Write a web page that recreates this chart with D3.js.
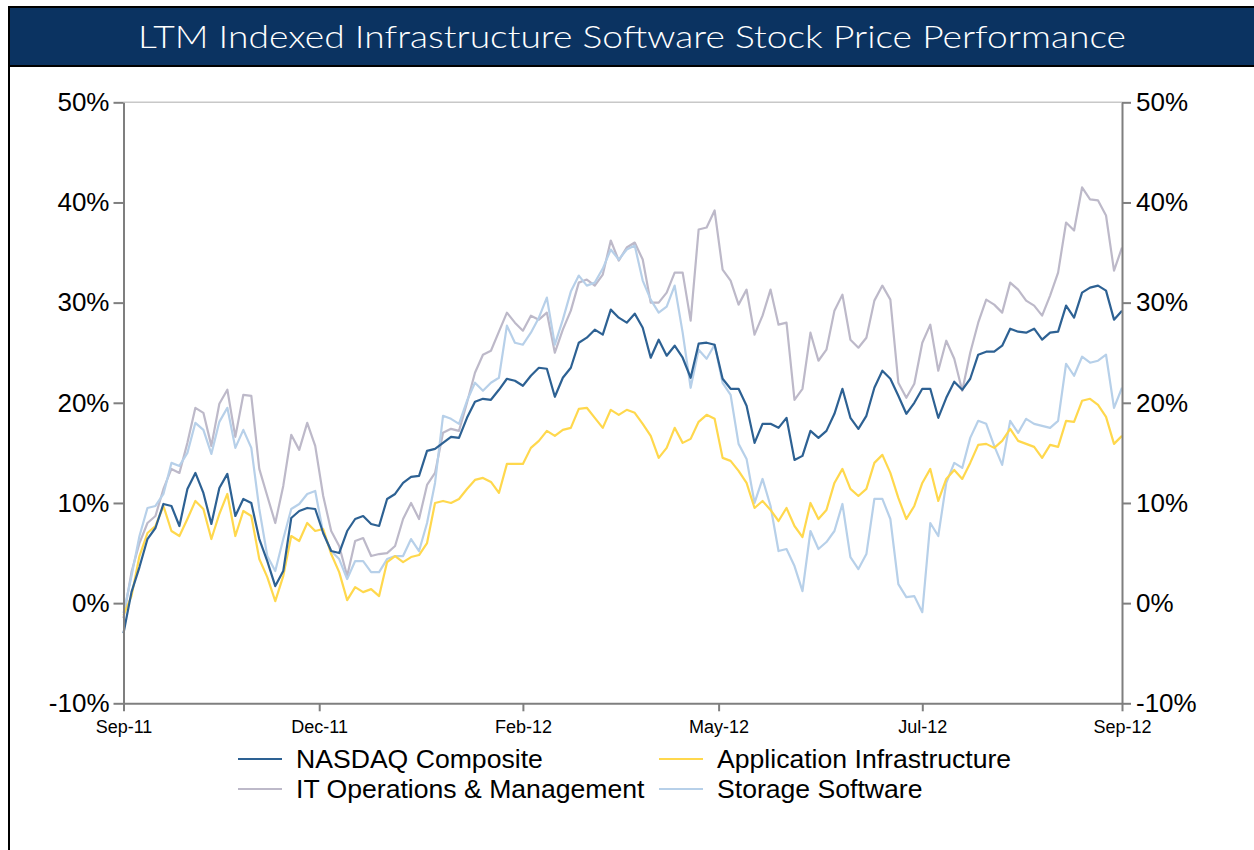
<!DOCTYPE html>
<html>
<head>
<meta charset="utf-8">
<script src="https://cdn.jsdelivr.net/npm/d3@7"></script>
<style>
  html, body { margin: 0; padding: 0; background: #fff; }
  svg { display: block; }
</style>
</head>
<body>
<script>
// ---------- DATA ----------
const tickIndex  = [0, 24.5, 50, 74.5, 100, 125];
const tickLabels = ["Sep-11", "Dec-11", "Feb-12", "May-12", "Jul-12", "Sep-12"];
const yTicks     = [-10, 0, 10, 20, 30, 40, 50];

const seriesNames = ["NASDAQ Composite", "Application Infrastructure", "IT Operations & Management", "Storage Software"];

const nasdaq = [
  -3.0, 1.1, 3.6, 6.4, 7.5, 9.9, 9.7, 7.7, 11.4, 13.0, 11.0, 7.9, 11.5, 12.9, 8.7, 10.4, 10.0, 6.4, 4.2, 1.7,
  3.2, 8.5, 9.2, 9.5, 9.4, 7.0, 5.2, 5.0, 7.2, 8.4, 8.7, 7.9, 7.7, 10.4, 10.9,
  12.0, 12.6, 12.7, 15.2, 15.4, 16.0, 16.6, 16.5, 18.5, 20.1, 20.4, 20.3, 21.3, 22.4, 22.2,
  21.7, 22.7, 23.5, 23.4, 20.6, 22.5, 23.5, 26.0, 26.5, 27.3, 26.8, 29.3, 28.5, 28.0, 28.9,
  27.5, 24.5, 26.3, 24.7, 25.7, 24.5, 22.5, 25.9, 26.0, 25.8, 22.4, 21.4, 21.4,
  19.7, 16.0, 17.9, 17.9, 17.5, 18.5, 14.3, 14.7, 17.2, 16.5, 17.2, 18.9, 21.4, 18.5, 17.4,
  18.7, 21.5, 23.2, 22.4, 20.7, 18.9, 20.0, 21.4, 21.4, 18.5, 20.5, 22.1, 21.3, 22.4, 24.8, 25.1, 25.1,
  25.7, 27.4, 27.1, 27.0, 27.4, 26.3, 27.0, 27.1, 29.7, 28.5, 31.0, 31.5, 31.7, 31.2, 28.3, 29.2
];
const appInfra = [
  -1.2, 0.7, 4.7, 7.0, 7.7, 9.7, 7.2, 6.7, 8.4, 10.2, 9.4, 6.4, 8.9, 10.9, 6.7, 9.2, 8.7, 4.4, 2.6, 0.2,
  2.7, 6.7, 6.2, 8.0, 7.2, 7.4, 4.9, 3.1, 0.3, 1.6, 1.1, 1.4, 0.7, 4.1, 4.7,
  4.1, 4.6, 4.8, 6.0, 10.0, 10.2, 10.0, 10.4, 11.4, 12.3, 12.5, 12.1, 11.0, 13.9, 13.9,
  13.9, 15.5, 16.2, 17.2, 16.7, 17.3, 17.5, 19.4, 19.5, 18.5, 17.5, 19.3, 18.8, 19.3, 19.0,
  17.9, 16.7, 14.5, 15.5, 17.5, 16.0, 16.4, 18.1, 18.8, 18.4, 14.5, 14.2, 13.2,
  12.0, 9.5, 10.2, 9.3, 8.2, 9.5, 7.7, 6.6, 10.0, 8.4, 9.3, 12.0, 13.4, 11.4, 10.7,
  11.4, 14.0, 14.8, 13.0, 10.5, 8.4, 9.7, 12.0, 13.4, 10.2, 12.4, 13.3, 12.4, 14.0, 15.8, 15.9, 15.5,
  16.2, 17.4, 16.2, 15.9, 15.6, 14.5, 15.8, 15.6, 18.2, 18.1, 20.2, 20.4, 19.8, 18.6, 15.9, 16.7
];
const itOps = [
  -1.5, 3.1, 6.0, 8.0, 8.7, 11.4, 13.4, 13.0, 16.0, 19.5, 19.0, 15.7, 19.9, 21.3, 16.6, 20.8, 20.7, 13.4, 10.7, 8.0,
  11.7, 16.8, 15.3, 18.0, 15.7, 10.7, 7.2, 5.7, 2.7, 6.2, 6.5, 4.7, 4.9, 5.0, 5.7,
  8.4, 10.0, 8.4, 11.8, 13.0, 17.0, 17.4, 17.2, 20.0, 23.0, 24.8, 25.2, 27.1, 29.0, 28.0,
  27.2, 28.7, 28.3, 29.0, 25.0, 27.3, 29.2, 32.0, 32.3, 31.7, 32.8, 36.2, 34.2, 35.5, 36.0,
  34.3, 30.0, 30.0, 31.0, 33.0, 33.0, 28.2, 37.3, 37.5, 39.2, 33.3, 32.2, 29.8,
  31.3, 26.8, 28.7, 31.3, 27.8, 28.0, 20.3, 21.4, 27.0, 24.2, 25.3, 29.2, 30.8, 26.3, 25.5,
  26.5, 30.2, 31.7, 30.3, 22.0, 20.5, 21.9, 26.0, 27.8, 23.2, 26.2, 24.4, 21.2, 25.0, 28.0, 30.3, 29.8,
  29.0, 32.0, 31.3, 30.2, 29.7, 28.7, 30.7, 33.0, 38.0, 37.2, 41.5, 40.3, 40.2, 38.7, 33.2, 35.5
];
const storage = [
  -1.0, 2.7, 6.7, 9.5, 9.7, 10.9, 14.0, 13.7, 15.0, 18.0, 17.3, 14.9, 18.1, 19.5, 15.5, 17.3, 15.5, 9.4, 4.7, 3.2,
  6.4, 9.4, 9.9, 10.9, 11.2, 7.0, 5.2, 4.4, 2.4, 4.2, 4.2, 3.1, 3.1, 4.4, 4.7,
  4.7, 6.4, 5.2, 8.0, 12.0, 18.7, 18.4, 17.9, 20.2, 22.0, 21.2, 22.0, 22.5, 27.7, 26.0,
  25.8, 27.0, 28.5, 30.5, 25.8, 28.3, 31.1, 32.7, 31.7, 32.0, 33.4, 35.3, 34.3, 35.3, 35.7,
  32.2, 30.3, 29.0, 29.6, 31.7, 27.0, 21.5, 25.3, 24.4, 25.8, 22.0, 20.8, 15.9,
  14.4, 10.0, 12.4, 9.7, 5.2, 5.4, 3.7, 1.2, 7.2, 5.4, 6.1, 7.2, 9.9, 4.6, 3.4,
  4.9, 10.4, 10.4, 8.4, 1.9, 0.6, 0.7, -0.9, 8.0, 6.7, 12.0, 14.0, 13.5, 16.5, 18.2, 17.9, 15.7,
  13.8, 18.2, 17.0, 18.4, 17.9, 17.7, 17.5, 18.2, 23.9, 22.7, 24.6, 24.0, 24.2, 24.8, 19.5, 21.5
];

// ---------- LAYOUT / STYLE ----------
const W = 1254, H = 850;
const colors = {
  "NASDAQ Composite": "#2D6193",
  "Application Infrastructure": "#FFD84D",
  "IT Operations & Management": "#BDB9C9",
  "Storage Software": "#B7D0E9"
};
const seriesData = {
  "NASDAQ Composite": nasdaq,
  "Application Infrastructure": appInfra,
  "IT Operations & Management": itOps,
  "Storage Software": storage
};
const drawOrder = ["IT Operations & Management", "Storage Software", "Application Infrastructure", "NASDAQ Composite"];

const svg = d3.select("body").append("svg").attr("width", W).attr("height", H);

// frame & title bar
svg.append("rect").attr("x", 0).attr("y", 0).attr("width", W).attr("height", H).attr("fill", "#fff");
svg.append("rect").attr("x", 8).attr("y", 6).attr("width", W).attr("height", 61).attr("fill", "#000");
svg.append("rect").attr("x", 10).attr("y", 8).attr("width", W).attr("height", 57).attr("fill", "#0B3361");
svg.append("rect").attr("x", 8).attr("y", 6).attr("width", 2).attr("height", H).attr("fill", "#000");
svg.append("text")
  .attr("x", 632).attr("y", 48)
  .attr("text-anchor", "middle")
  .attr("fill", "#fff")
  .attr("font-family", "Lato, 'Open Sans', sans-serif")
  .attr("font-weight", 300)
  .attr("font-size", 31)
  .attr("textLength", 988)
  .attr("lengthAdjust", "spacingAndGlyphs")
  .text("LTM Indexed Infrastructure Software Stock Price Performance");

// scales
const nPts = nasdaq.length;
const x = d3.scaleLinear().domain([0, nPts - 1]).range([123.5, 1122]);
const y = d3.scaleLinear().domain([-10, 50]).range([703.3, 102.3]);

// top gridline at 50%
svg.append("line")
  .attr("x1", x(0)).attr("x2", x(nPts - 1))
  .attr("y1", y(50)).attr("y2", y(50))
  .attr("stroke", "#C8C8C8").attr("stroke-width", 1.5);

// lines
const line = d3.line().x((d, i) => x(i)).y(d => y(d));
drawOrder.forEach(name => {
  svg.append("path")
    .datum(seriesData[name])
    .attr("d", line)
    .attr("fill", "none")
    .attr("stroke", colors[name])
    .attr("stroke-width", 2.2)
    .attr("stroke-linejoin", "round");
});

// axes
const axisColor = "#7F7F7F";
const fontAxis = "'Liberation Sans', Arial, sans-serif";

function styleAxis(g, fs) {
  g.select(".domain").attr("stroke", axisColor).attr("stroke-width", 2);
  g.selectAll(".tick line").attr("stroke", axisColor).attr("stroke-width", 2);
  g.selectAll(".tick text").attr("fill", "#000").attr("font-size", fs).attr("font-family", fontAxis);
}

const gL = svg.append("g").attr("transform", `translate(${x(0)},0)`)
  .call(d3.axisLeft(y).tickValues(yTicks).tickFormat(d => d + "%").tickSize(10).tickPadding(4).tickSizeOuter(0));
styleAxis(gL, 26);

const gR = svg.append("g").attr("transform", `translate(${x(nPts - 1)},0)`)
  .call(d3.axisRight(y).tickValues(yTicks).tickFormat(d => d + "%").tickSize(9).tickPadding(5).tickSizeOuter(0));
styleAxis(gR, 26);

const gB = svg.append("g").attr("transform", `translate(0,${y(-10)})`)
  .call(d3.axisBottom(x).tickValues(tickIndex).tickFormat((d, i) => tickLabels[i]).tickSize(8).tickPadding(9).tickSizeOuter(0));
styleAxis(gB, 18);

// legend
const legendPos = [
  { name: "NASDAQ Composite", lx: 238, ty: 759 },
  { name: "Application Infrastructure", lx: 659, ty: 759 },
  { name: "IT Operations & Management", lx: 238, ty: 789 },
  { name: "Storage Software", lx: 659, ty: 789 }
];
const lg = svg.append("g");
legendPos.forEach(p => {
  lg.append("line")
    .attr("x1", p.lx).attr("x2", p.lx + 44)
    .attr("y1", p.ty).attr("y2", p.ty)
    .attr("stroke", colors[p.name]).attr("stroke-width", 2);
  lg.append("text")
    .attr("x", p.lx + 58).attr("y", p.ty)
    .attr("dy", "0.35em")
    .attr("font-family", fontAxis)
    .attr("font-size", 26.6)
    .attr("fill", "#000")
    .text(p.name);
});
</script>
</body>
</html>
